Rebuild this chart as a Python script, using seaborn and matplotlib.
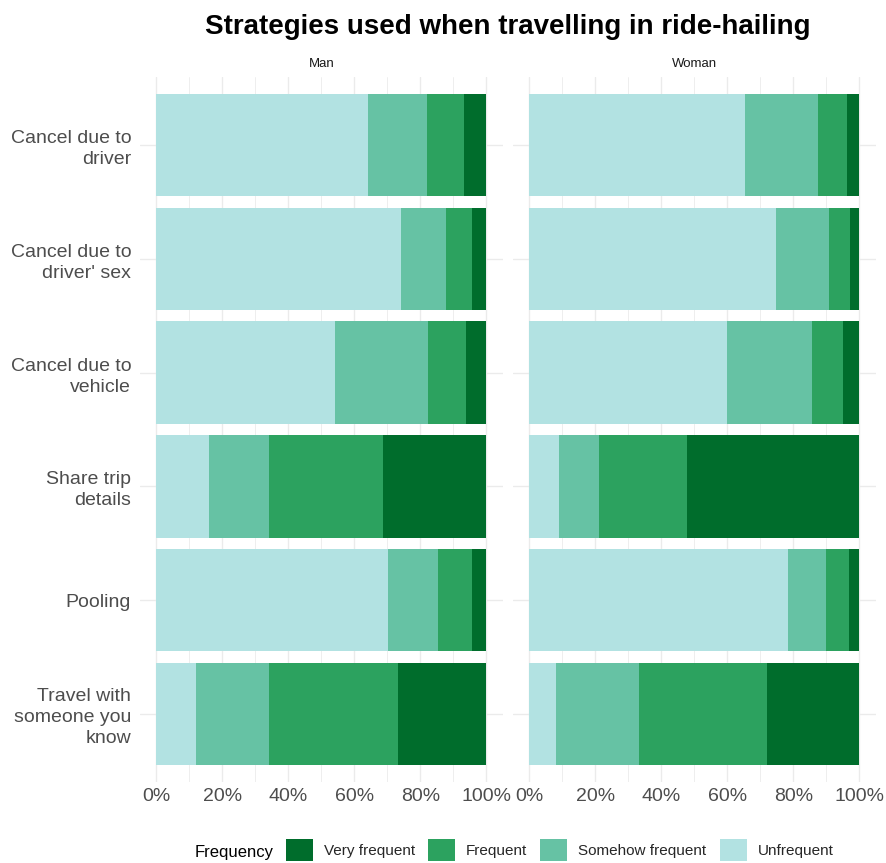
import seaborn as sns
import numpy as np
import pandas as pd
import matplotlib.pyplot as plt
from matplotlib.patches import Patch
from matplotlib.ticker import FixedLocator

sns.set_style("white")
plt.rcParams['font.family'] = ['Liberation Sans', 'DejaVu Sans']

strategies = ["Cancel due to\ndriver", "Cancel due to\ndriver' sex", "Cancel due to\nvehicle",
              "Share trip\ndetails", "Pooling", "Travel with\nsomeone you\nknow"]
levels = ["Unfrequent", "Somehow frequent", "Frequent", "Very frequent"]
colors = {"Very frequent": "#006d2c", "Frequent": "#2ca25f",
          "Somehow frequent": "#66c2a4", "Unfrequent": "#b2e2e2"}

# percentages: Unfrequent, Somehow frequent, Frequent, Very frequent
man = [
    [64.1, 17.8, 11.4, 6.7],
    [74.1, 13.8, 7.6, 4.5],
    [54.2, 28.0, 11.7, 6.1],
    [16.1, 18.2, 34.5, 31.2],
    [70.3, 14.9, 10.3, 4.5],
    [12.0, 22.3, 38.8, 26.9],
]
woman = [
    [65.3, 22.1, 8.8, 3.8],
    [74.8, 16.1, 6.3, 2.8],
    [59.9, 25.6, 9.5, 5.0],
    [8.9, 12.1, 26.7, 52.3],
    [78.4, 11.5, 6.8, 3.3],
    [8.0, 25.3, 38.8, 27.9],
]

W, H = 886, 863
fig = plt.figure(figsize=(W / 100, H / 100), dpi=100)
top, bottom = 77, 782
panels = {"Man": (139.5, 503, man), "Woman": (512.8, 876, woman)}

for name, (x0, x1, vals) in panels.items():
    ax = fig.add_axes([x0 / W, 1 - bottom / H, (x1 - x0) / W, (bottom - top) / H])
    df = pd.DataFrame(vals, columns=levels)
    df["strategy"] = strategies
    cum = df[levels].cumsum(axis=1)
    # draw outermost cumulative first so shorter segments sit on top
    for lv in reversed(levels):
        sns.barplot(x=cum[lv].values / 100, y=df["strategy"], color=colors[lv],
                    orient="h", width=0.9, saturation=1, linewidth=0,
                    ax=ax, zorder=2)
    ax.set_xlim(-0.05, 1.05)
    ax.set_ylim(5.6, -0.6)
    ax.xaxis.set_major_locator(FixedLocator(np.arange(0, 1.01, 0.2)))
    ax.xaxis.set_minor_locator(FixedLocator(np.arange(0.1, 1.0, 0.2)))
    ax.set_xticklabels([f"{int(round(t * 100))}%" for t in np.arange(0, 1.01, 0.2)])
    ax.grid(True, which="major", color="#ebebeb", lw=1.0, zorder=0)
    ax.grid(True, which="minor", axis="x", color="#ebebeb", lw=0.6, zorder=0)
    ax.set_axisbelow(True)
    for s in ax.spines.values():
        s.set_visible(False)
    ax.tick_params(axis="both", length=0, labelsize=14, labelcolor="#4d4d4d")
    ax.tick_params(axis="x", pad=4)
    ax.tick_params(axis="y", pad=6)
    ax.set_xlabel("")
    ax.set_ylabel("")
    if name == "Woman":
        ax.set_yticklabels([])
    else:
        for lab in ax.get_yticklabels():
            lab.set_linespacing(1.3)
    ax.set_title(name, fontsize=9.5, color="#1a1a1a", pad=7)

fig.text(508 / W, 1 - 27 / H, "Strategies used when travelling in ride-hailing",
         ha="center", va="center", fontsize=20, fontweight="bold", color="black")

fig.text(274 / W, 1 - 852 / H, "Frequency", ha="right", va="center",
         fontsize=12, color="black")
handles = [Patch(facecolor=colors[lv], edgecolor="none") for lv in reversed(levels)]
fig.legend(handles, list(reversed(levels)), loc="center left",
           bbox_to_anchor=(286 / W, 1 - 850 / H), ncol=4, frameon=False,
           fontsize=11, handlelength=1.77, handleheight=1.77,
           handletextpad=0.72, columnspacing=0.85, borderpad=0, borderaxespad=0)

fig.savefig("out.png", dpi=100)
